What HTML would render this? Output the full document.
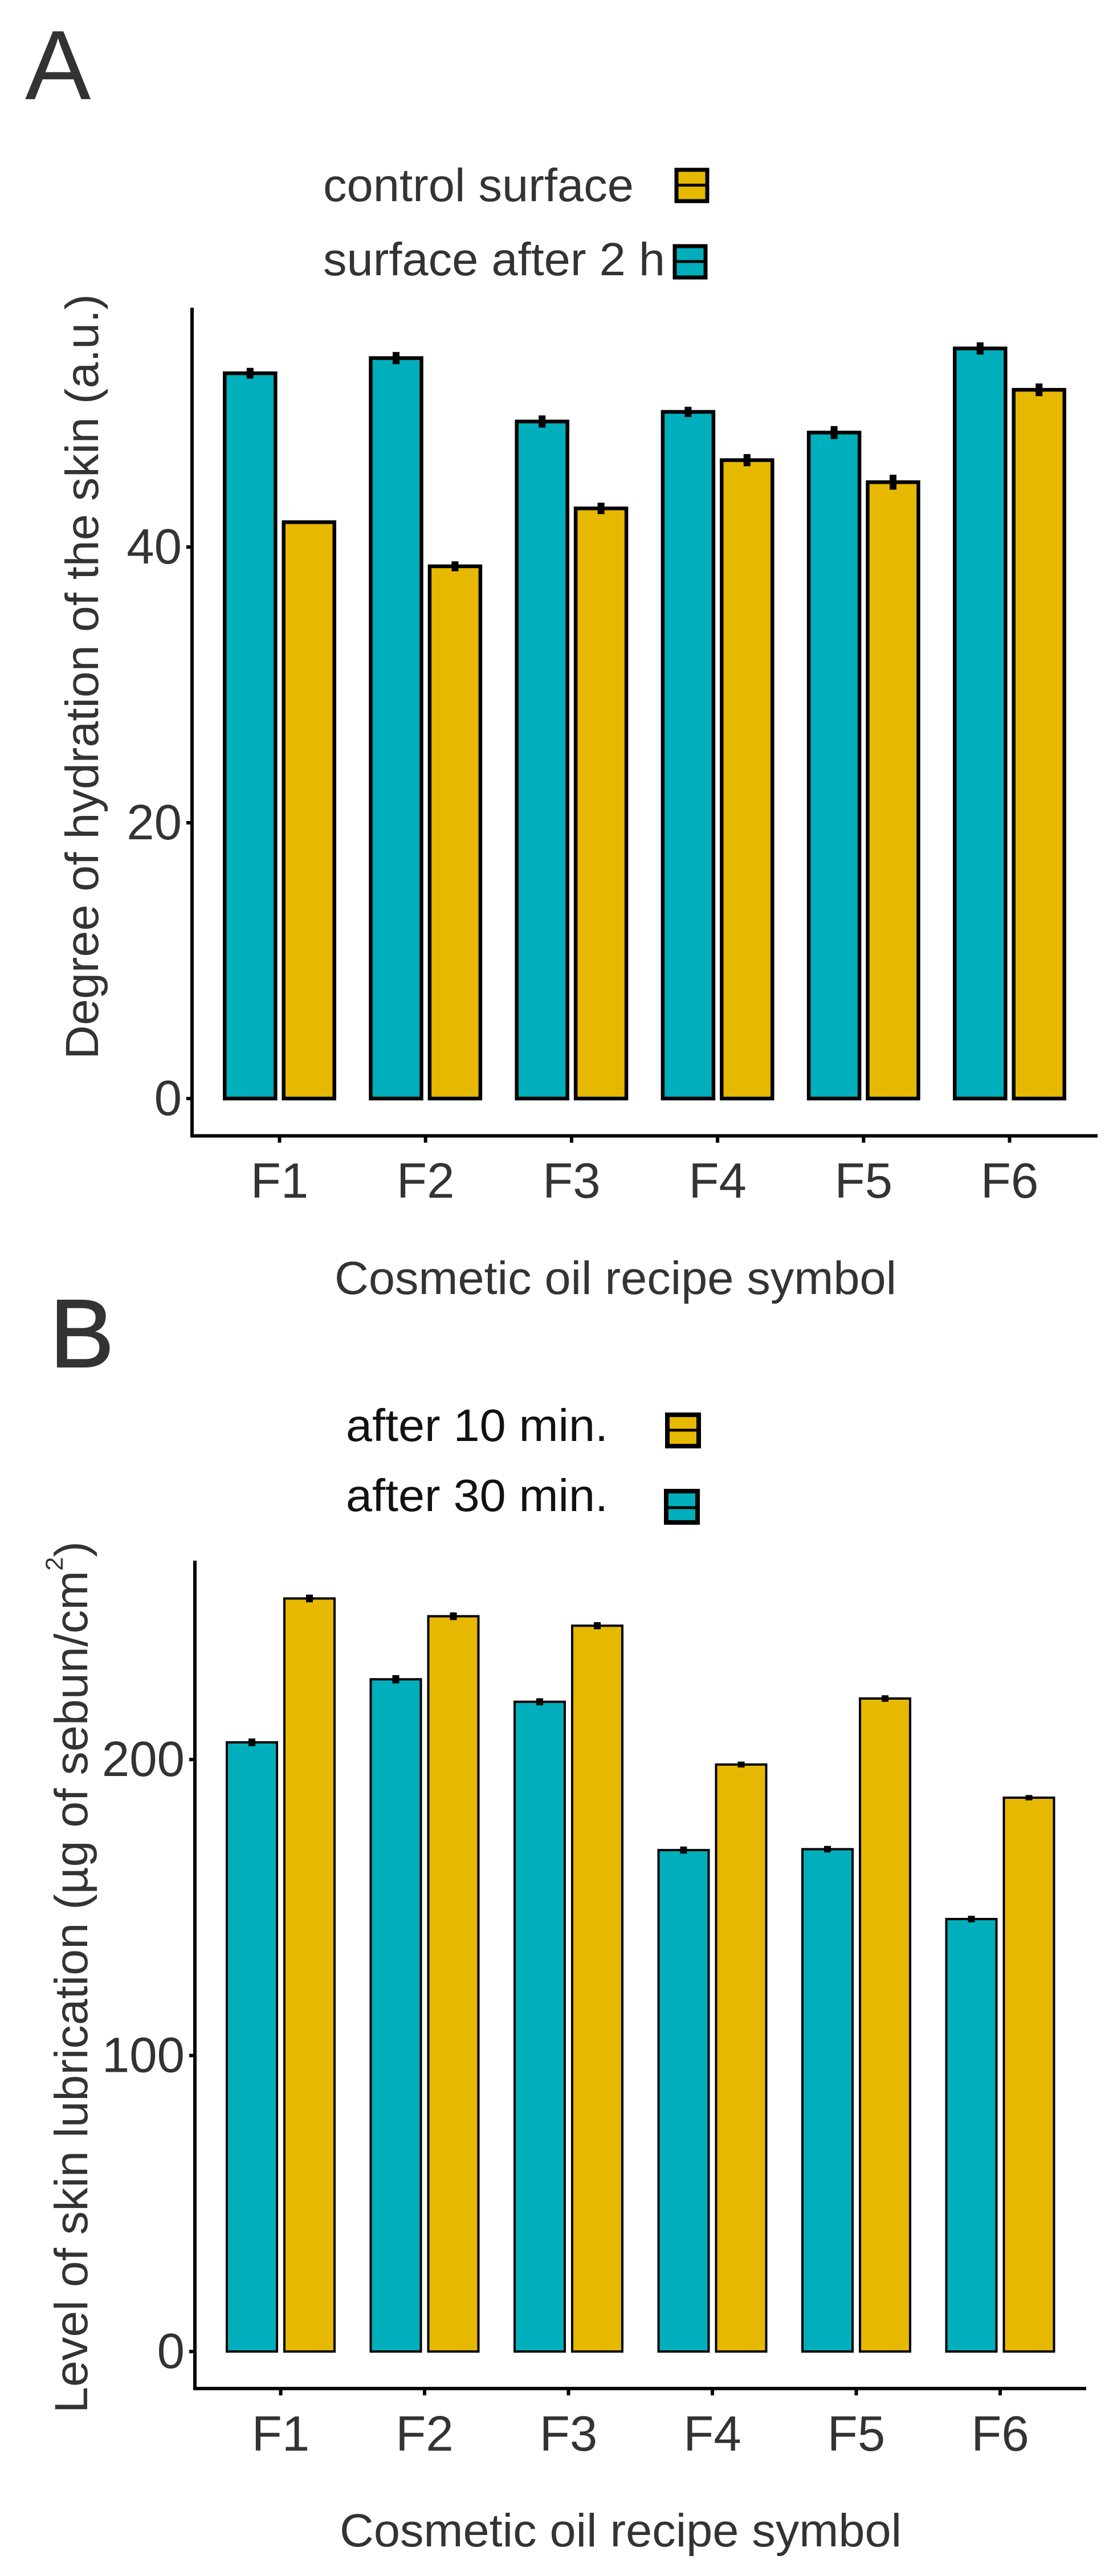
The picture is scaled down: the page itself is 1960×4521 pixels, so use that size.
<!DOCTYPE html>
<html lang="en">
<head>
<meta charset="utf-8">
<title>Skin hydration and lubrication by cosmetic oil recipe</title>
<style>
html,body{margin:0;padding:0;background:#fff;}
svg{display:block;}
text{font-family:"Liberation Sans",sans-serif;fill:#333;}
</style>
</head>
<body>
<svg id="figure" width="1960" height="4521" viewBox="0 0 1960 4521" xmlns="http://www.w3.org/2000/svg">
  <rect width="1960" height="4521" fill="#fff"/>

  <text x="44" y="174" font-size="173">A</text>
  <text x="87" y="2399" font-size="170" stroke="#333" stroke-width="2">B</text>

  <g>
    <text x="567" y="353" font-size="82" textLength="545" lengthAdjust="spacingAndGlyphs">control surface</text>
    <g>
      <rect x="1187" y="298" width="54" height="55" fill="#E7B800" stroke="#000" stroke-width="7"/>
      <line x1="1187" y1="325" x2="1241" y2="325" stroke="#000" stroke-width="5"/>
    </g>
    <text x="567" y="483" font-size="82" textLength="600" lengthAdjust="spacingAndGlyphs">surface after 2 h</text>
    <g>
      <rect x="1184" y="432" width="54" height="55" fill="#00AFBB" stroke="#000" stroke-width="7"/>
      <line x1="1184" y1="459" x2="1238" y2="459" stroke="#000" stroke-width="5"/>
    </g>
  </g>

  <g>
    <text x="607" y="2529" font-size="80" textLength="460" lengthAdjust="spacingAndGlyphs" style="fill:#111">after 10 min.</text>
    <g>
      <rect x="1171" y="2483" width="55" height="55" fill="#E7B800" stroke="#000" stroke-width="8"/>
      <line x1="1171" y1="2510" x2="1226" y2="2510" stroke="#000" stroke-width="5"/>
    </g>
    <text x="607" y="2652" font-size="80" textLength="460" lengthAdjust="spacingAndGlyphs" style="fill:#111">after 30 min.</text>
    <g>
      <rect x="1169" y="2617" width="55" height="55" fill="#00AFBB" stroke="#000" stroke-width="8"/>
      <line x1="1169" y1="2646" x2="1224" y2="2646" stroke="#000" stroke-width="5"/>
    </g>
  </g>

  <text transform="translate(172 1859) rotate(-90)" font-size="82" textLength="1343" lengthAdjust="spacingAndGlyphs">Degree of hydration of the skin (a.u.)</text>
  <text x="587" y="2271" font-size="82" textLength="986" lengthAdjust="spacingAndGlyphs">Cosmetic oil recipe symbol</text>
  <text transform="translate(153 4235) rotate(-90)" font-size="82" textLength="1530" lengthAdjust="spacingAndGlyphs">Level of skin lubrication (µg of sebun/cm<tspan font-size="43" dy="-43">2</tspan><tspan dy="43">)</tspan></text>
  <text x="596" y="4469" font-size="82" textLength="986" lengthAdjust="spacingAndGlyphs">Cosmetic oil recipe symbol</text>

  <g id="chart-a"></g>
  <g id="chart-b"></g>
</svg>

<script>
// Shared categories
const categories = ['F1', 'F2', 'F3', 'F4', 'F5', 'F6'];

// Panel A: degree of hydration of the skin (a.u.)
const hydrationAfter2h = [52.6, 53.7, 49.1, 49.8, 48.3, 54.4];
const hydrationControl = [41.8, 38.6, 42.8, 46.3, 44.7, 51.4];
const hydrationAfter2hError = [0.35, 0.4, 0.4, 0.33, 0.43, 0.4];
const hydrationControlError = [0.05, 0.32, 0.37, 0.4, 0.5, 0.42];
const hydrationTicks = [0, 20, 40];

// Panel B: level of skin lubrication (ug of sebun/cm2)
const lubricationAfter30 = [205.8, 227.1, 219.5, 169.4, 169.7, 146.1];
const lubricationAfter10 = [254.4, 248.4, 245.2, 198.3, 220.6, 187.1];
const lubricationAfter30Error = [1.2, 1.3, 1.1, 1.1, 1.0, 1.0];
const lubricationAfter10Error = [1.2, 1.2, 1.1, 0.9, 1.0, 0.8];
const lubricationTicks = [0, 100, 200];

const SVG_NS = 'http://www.w3.org/2000/svg';
const TEAL = '#00AFBB';
const GOLD = '#E7B800';

// Axis functions
function xA(i) { return 490.5 + i * 256.2; }
function yA(v) { return 1928 - v * 24.2; }
function xB(i) { return 492.5 + i * 252.5; }
function yB(v) { return 4127 - v * 5.195; }

function make(tag, parent) {
  const el = document.createElementNS(SVG_NS, tag);
  parent.appendChild(el);
  return el;
}

function drawLine(parent, x1, y1, x2, y2, width) {
  const el = make('line', parent);
  el.setAttribute('x1', x1);
  el.setAttribute('y1', y1);
  el.setAttribute('x2', x2);
  el.setAttribute('y2', y2);
  el.setAttribute('stroke', '#000');
  el.setAttribute('stroke-width', width);
  return el;
}

function drawBar(parent, cx, halfWidth, top, base, fill, strokeWidth) {
  const el = make('rect', parent);
  el.setAttribute('x', cx - halfWidth);
  el.setAttribute('y', top);
  el.setAttribute('width', halfWidth * 2);
  el.setAttribute('height', base - top);
  el.setAttribute('fill', fill);
  el.setAttribute('stroke', '#000');
  el.setAttribute('stroke-width', strokeWidth);
  return el;
}

function drawLabel(parent, x, y, anchor, content) {
  const el = make('text', parent);
  el.setAttribute('x', x);
  el.setAttribute('y', y);
  el.setAttribute('font-size', 87);
  el.setAttribute('text-anchor', anchor);
  el.textContent = content;
  return el;
}

function drawChart(cfg) {
  const root = document.getElementById(cfg.id);

  const yAxis = drawLine(root, cfg.axisX, cfg.axisTop, cfg.axisX, cfg.axisY + cfg.axisWidth / 2, cfg.axisWidth);
  
  

  const xAxis = drawLine(root, cfg.axisX, cfg.axisY, cfg.axisRight, cfg.axisY, cfg.axisWidth);
  
  

  cfg.ticks.forEach(function (t) {
    const tick = drawLine(root, cfg.axisX - 10, cfg.y(t), cfg.axisX, cfg.y(t), 6);
    
    
    const label = drawLabel(root, cfg.axisX - 18, cfg.y(t) + 29, 'end', String(t));
    
    
  });

  categories.forEach(function (cat, i) {
    const cx = cfg.x(i);

    const tick = drawLine(root, cx, cfg.axisY, cx, cfg.axisY + 12, 6);
    
    
    const label = drawLabel(root, cx, cfg.labelY, 'middle', cat);
    
    

    const base = cfg.y(0);

    const tealTop = cfg.y(cfg.teal[i]);
    const tealBar = drawBar(root, cx - cfg.offset, cfg.halfBar, tealTop, base, TEAL, cfg.stroke);
    
    
    const tealErr = drawLine(root, cx - cfg.offset, cfg.y(cfg.teal[i] + cfg.tealErr[i]) - cfg.errPad, cx - cfg.offset, cfg.y(cfg.teal[i] - cfg.tealErr[i]) + cfg.errPad, 12);
    
    

    const goldTop = cfg.y(cfg.gold[i]);
    const goldBar = drawBar(root, cx + cfg.offset, cfg.halfBar, goldTop, base, GOLD, cfg.stroke);
    
    
    const goldErr = drawLine(root, cx + cfg.offset, cfg.y(cfg.gold[i] + cfg.goldErr[i]) - cfg.errPad, cx + cfg.offset, cfg.y(cfg.gold[i] - cfg.goldErr[i]) + cfg.errPad, 12);
    
    
  });
}

drawChart({
  id: 'chart-a', x: xA, y: yA, ticks: hydrationTicks,
  teal: hydrationAfter2h, gold: hydrationControl,
  tealErr: hydrationAfter2hError, goldErr: hydrationControlError,
  tealName: 'after-2h', goldName: 'control',
  axisX: 337, axisTop: 540, axisY: 1993.5, axisRight: 1926, axisWidth: 6,
  labelY: 2102, offset: 51.7, halfBar: 44.5, stroke: 6.5, errPad: 1
});

drawChart({
  id: 'chart-b', x: xB, y: yB, ticks: lubricationTicks,
  teal: lubricationAfter30, gold: lubricationAfter10,
  tealErr: lubricationAfter30Error, goldErr: lubricationAfter10Error,
  tealName: 'after-30min', goldName: 'after-10min',
  axisX: 342, axisTop: 2739, axisY: 4192, axisRight: 1906, axisWidth: 6,
  labelY: 4301, offset: 50.5, halfBar: 44, stroke: 4, errPad: 0.5
});
</script>
</body>
</html>
